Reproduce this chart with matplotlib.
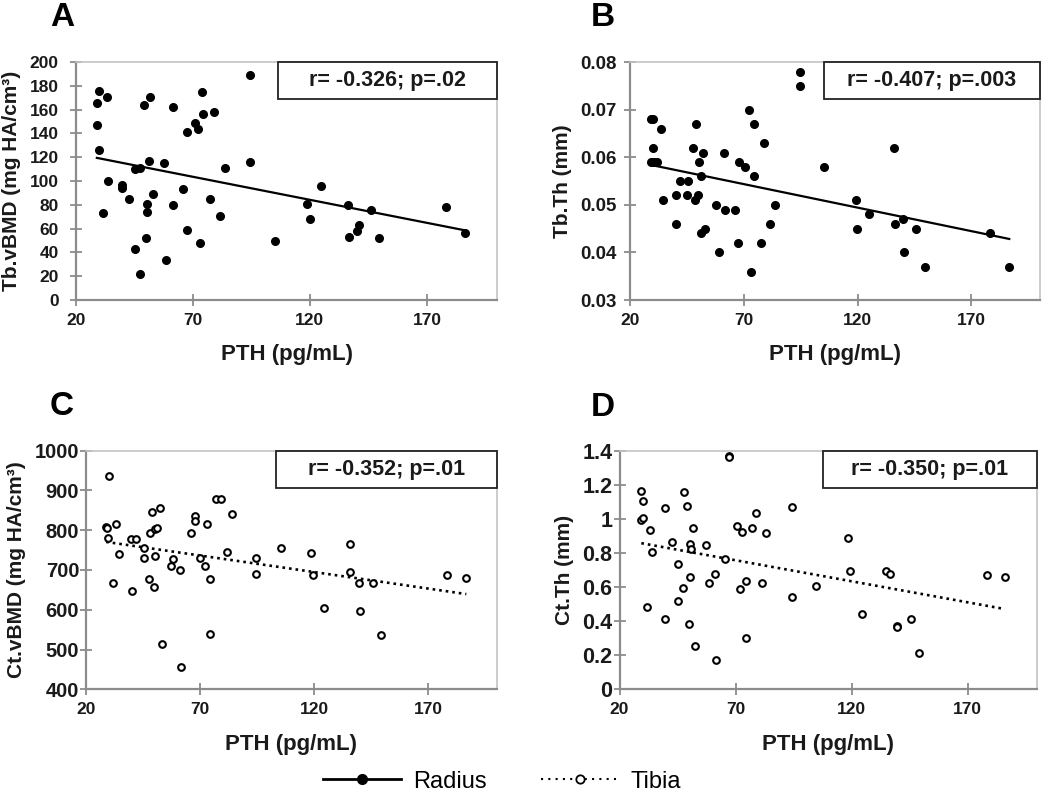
import matplotlib
matplotlib.use("Agg")
import matplotlib.pyplot as plt
from matplotlib.lines import Line2D
from matplotlib.patches import Rectangle
import numpy as np

plt.rcParams['font.family'] = ['Liberation Sans', 'DejaVu Sans']
plt.rcParams['font.weight'] = 'bold'

# ---- data ----
# A: radius Tb.vBMD vs PTH
pth_a = [28.9, 29.7, 33.2, 28.9, 29.7, 31.7, 33.6, 39.8, 39.8, 42.5, 45.1, 47.5, 45.1,
         47.2, 49.2, 51.8, 51.2, 50.5, 50.5, 49.9, 52.7, 57.4, 58.5, 61.4, 61.4, 65.8,
         67.4, 67.4, 70.7, 72.1, 73.0, 74.0, 74.2, 77.4, 78.9, 81.5, 83.6, 94.2, 94.2,
         105.1, 118.6, 120.0, 124.6, 136.3, 136.8, 140.2, 140.9, 146.1, 149.7, 178.3, 186.5]
tb_vbmd = [166, 176, 171, 147, 126, 73, 100, 97, 94, 85, 110, 111, 43,
           22, 164, 171, 117, 81, 74, 52, 89, 115, 34, 162, 80, 93,
           141, 59, 149, 144, 48, 175, 156, 85, 158, 71, 111, 189, 116,
           50, 81, 68, 96, 80, 53, 58, 63, 76, 52, 78, 56]

# B: radius Tb.Th vs PTH
pth_b = [29.4, 30.0, 33.5, 30.0, 29.4, 30.6, 32.0, 34.6, 40.0, 40.0, 41.9, 45.6, 45.1,
         47.5, 49.0, 48.4, 49.7, 50.3, 51.0, 52.2, 51.0, 52.8, 57.8, 59.1, 61.3, 61.9,
         66.1, 67.3, 67.9, 70.7, 72.4, 73.3, 74.7, 74.7, 77.4, 78.9, 81.5, 83.6, 94.7,
         94.7, 105.2, 119.2, 119.6, 125.0, 136.0, 136.5, 140.0, 140.6, 145.9, 149.6,
         178.2, 186.7]
tb_th = [0.068, 0.068, 0.066, 0.062, 0.059, 0.059, 0.059, 0.051, 0.052, 0.046, 0.055,
         0.055, 0.052, 0.062, 0.067, 0.051, 0.052, 0.059, 0.056, 0.061, 0.044, 0.045,
         0.050, 0.040, 0.061, 0.049, 0.049, 0.042, 0.059, 0.058, 0.070, 0.036, 0.067,
         0.056, 0.042, 0.063, 0.046, 0.050, 0.078, 0.075, 0.058, 0.051, 0.045, 0.048,
         0.062, 0.046, 0.047, 0.040, 0.045, 0.037, 0.044, 0.037]

# C: tibia Ct.vBMD vs PTH
pth_c = [30.2, 28.8, 29.0, 29.4, 33.2, 31.7, 34.5, 39.8, 42.0, 40.0, 45.5, 45.5, 47.5,
         48.8, 48.2, 49.7, 50.1, 50.4, 51.0, 52.3, 53.2, 57.2, 58.3, 61.3, 61.4, 66.1,
         67.6, 67.6, 70.0, 72.1, 73.0, 74.3, 74.4, 77.1, 79.3, 81.9, 84.1, 94.3, 94.3,
         105.5, 118.5, 119.5, 124.5, 135.6, 135.5, 139.6, 140.3, 145.9, 149.5, 178.3, 186.7]
ct_vbmd = [937, 808, 806, 781, 816, 667, 741, 778, 778, 647, 754, 730, 676,
           845, 793, 656, 734, 803, 806, 855, 514, 711, 728, 699, 455, 794,
           836, 824, 731, 711, 816, 676, 540, 879, 879, 746, 840, 731, 691,
           754, 742, 687, 605, 766, 694, 667, 596, 667, 537, 687, 679]

# D: tibia Ct.Th vs PTH
pth_d = [67.1, 67.3, 29.4, 30.0, 29.4, 30.0, 33.3, 34.0, 32.0, 39.8, 39.8, 42.5, 45.1,
         45.2, 47.2, 47.7, 49.1, 49.8, 50.5, 50.8, 50.5, 51.8, 52.5, 57.2, 58.4, 61.1,
         61.7, 65.5, 70.4, 72.1, 72.9, 74.4, 74.4, 76.9, 78.9, 81.5, 83.3, 94.2, 94.2,
         104.7, 118.6, 119.1, 124.4, 134.8, 136.4, 139.5, 139.6, 145.7, 149.1, 178.2, 186.0]
ct_th = [1.37, 1.365, 1.162, 1.107, 0.990, 1.002, 0.936, 0.805, 0.485, 1.063, 0.413,
         0.864, 0.733, 0.515, 0.597, 1.154, 1.072, 0.384, 0.854, 0.825, 0.659, 0.944,
         0.255, 0.844, 0.624, 0.679, 0.172, 0.762, 0.955, 0.587, 0.922, 0.634, 0.302,
         0.946, 1.035, 0.624, 0.914, 1.070, 0.540, 0.606, 0.889, 0.696, 0.439, 0.696,
         0.679, 0.372, 0.365, 0.413, 0.211, 0.669, 0.659]

panel_letters = ["A", "B", "C", "D"]
y_labels = ["Tb.vBMD (mg HA/cm\u00b3)", "Tb.Th (mm)",
            "Ct.vBMD (mg HA/cm\u00b3)", "Ct.Th (mm)"]
stats_text = ["r= -0.326; p=.02", "r= -0.407; p=.003",
              "r= -0.352; p=.01", "r= -0.350; p=.01"]
x_ticks = [20, 70, 120, 170]
y_ticks = [np.arange(0, 201, 20), np.arange(0.03, 0.081, 0.01),
           np.arange(400, 1001, 100), np.arange(0, 1.41, 0.2)]
y_fmt = ["{:.0f}", "{:.2f}", "{:.0f}", "{:g}"]

TXT = "#1a1a1a"

fig = plt.figure(figsize=(10.5, 7.96), dpi=100)

# axes rectangles (left, bottom, width, height) in figure fraction
rects = [(0.0724, 0.623, 0.401, 0.299), (0.600, 0.623, 0.390, 0.299),
         (0.082, 0.134, 0.391, 0.300), (0.590, 0.134, 0.398, 0.300)]
box_x0 = [0.48, 0.473, 0.462, 0.486]
letter_pos = [(62, 17), (603, 17), (62, 406), (603, 407)]
ytick_size = [12.5, 13.5, 14.5, 15.5]
ytick_pad = [8.5, 5.5, 1.0, 1.0]

datasets = [(pth_a, tb_vbmd), (pth_b, tb_th), (pth_c, ct_vbmd), (pth_d, ct_th)]

for i, (x, y) in enumerate(datasets):
    ax = fig.add_axes(rects[i])
    x = np.array(x)
    y = np.array(y)
    if i < 2:
        ax.plot(x, y, 'o', color='black', ms=5.5, mec='black', zorder=3)
        ls = '-'
        lw = 1.6
    else:
        ax.plot(x, y, 'o', color='black', ms=4.8, mfc='white', mec='black',
                mew=1.5, zorder=3)
        ls = (0, (1, 1.5))
        lw = 1.9
    k, b = np.polyfit(x, y, 1)
    xs = np.array([x.min(), x.max()])
    ax.plot(xs, k * xs + b, color='black', lw=lw, linestyle=ls, zorder=2)

    ax.set_xlim(20, 200)
    ax.set_ylim(y_ticks[i][0], y_ticks[i][-1])
    ax.set_xticks(x_ticks)
    ax.set_yticks(y_ticks[i])
    ax.set_yticklabels([y_fmt[i].format(v) for v in y_ticks[i]])
    ax.tick_params(direction='inout', length=8, width=1.3, color='#8c8c8c',
                   labelcolor=TXT)
    ax.tick_params(axis='x', labelsize=12.5, pad=5)
    ax.tick_params(axis='y', labelsize=ytick_size[i], pad=ytick_pad[i])
    for s in ['left', 'bottom']:
        ax.spines[s].set_color('#8c8c8c')
        ax.spines[s].set_linewidth(1.6)
    for s in ['top', 'right']:
        ax.spines[s].set_color('#c4c4c4')
        ax.spines[s].set_linewidth(1.2)
    for lab in ax.get_xticklabels() + ax.get_yticklabels():
        lab.set_fontweight('bold')

    ax.set_xlabel("PTH (pg/mL)", fontsize=16, fontweight='bold', color=TXT,
                  labelpad=12)
    ax.set_ylabel(y_labels[i], fontsize=15, fontweight='bold', color=TXT,
                  labelpad=6)

    # stats box in the top right corner
    ax.add_patch(Rectangle((box_x0[i], 0.843), 1.0 - box_x0[i], 0.157,
                           transform=ax.transAxes, facecolor='white',
                           edgecolor='#222222', lw=1.3, zorder=4, clip_on=False))
    ax.text((box_x0[i] + 1.0) / 2, 0.921, stats_text[i], transform=ax.transAxes,
            ha='center', va='center', fontsize=15.5, fontweight='bold',
            color=TXT, zorder=5)

    lx, ly = letter_pos[i]
    fig.text(lx / 1050, 1 - ly / 796, panel_letters[i], ha='center', va='center',
             fontsize=24, fontweight='bold', color='black')

handles = [Line2D([], [], color='black', lw=2, marker='o', ms=7, mfc='black'),
           Line2D([], [], color='black', lw=1.5, linestyle=(0, (1, 2.5)),
                  marker='o', ms=6, mfc='white', mew=1.3)]
fig.legend(handles, ["Radius", "Tibia"], loc='center', ncol=2,
           bbox_to_anchor=(0.478, 0.018), frameon=False,
           prop={'family': 'Liberation Sans', 'weight': 'normal', 'size': 17},
           handlelength=3.3, handletextpad=0.5, columnspacing=2.3)

fig.savefig("out.png", dpi=100)
